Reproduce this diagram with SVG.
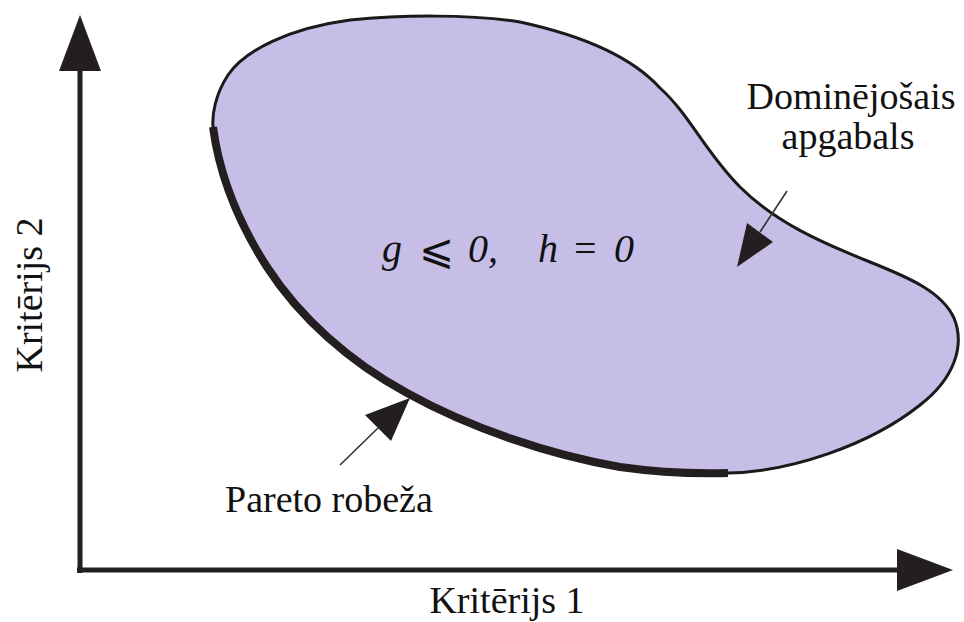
<svg xmlns="http://www.w3.org/2000/svg" width="964" height="622" viewBox="0 0 964 622">
<style>
.t{font-family:"Liberation Serif","Times New Roman",serif;font-size:38px;fill:#111}
.m{font-family:"Liberation Serif","Times New Roman",serif;font-size:40px;font-style:italic;fill:#111}
.ax{stroke:#231f20;stroke-width:5;fill:none}
.hd{fill:#231f20}
.ln{stroke:#333;stroke-width:1.6;fill:none}
</style>
<rect width="964" height="622" fill="#fff"/>
<g id="region">
<path d="M213,127 C220,180 240,225 267,267 C300,318 350,362 407,393 C470,428 550,455 620,467 C655,472 690,474 728,473 C790,472 870,445 920,405 C955,378 965,345 954,318 C942,292 910,278 870,262 C820,242 775,222 740,187 C705,152 690,115 660,88 C630,55 580,35 520,22 C470,14 400,15 350,20 C290,28 245,50 228,75 C215,95 212,115 213,127 Z" fill="#c6bee6" stroke="#1a1a1a" stroke-width="3"/>
<path id="pareto" d="M213,127 C220,180 240,225 267,267 C300,318 350,362 407,393 C470,428 550,455 620,467 C655,472 690,474 728,473" fill="none" stroke="#231f20" stroke-width="8"/>
<text class="m" x="382" y="262">g</text>
<text x="419" y="264" style="font-family:'DejaVu Serif','Liberation Serif',serif;font-size:42px;fill:#111">⩽</text>
<text class="m" x="468" y="262">0,</text>
<text class="m" x="538" y="262">h</text>
<text class="t" x="574" y="262" style="font-size:40px">=</text>
<text class="m" x="614" y="262">0</text>
</g>
<g id="axes">
<line class="ax" x1="80" y1="573" x2="80" y2="68"/>
<polygon class="hd" points="80,15 59,71 101,71"/>
<line class="ax" x1="77" y1="570" x2="900" y2="570"/>
<polygon class="hd" points="953,570 897,549 897,591"/>
</g>
<g id="connectors">
<line class="ln" x1="787" y1="191" x2="760" y2="232"/>
<polygon class="hd" points="737,267 747,223 773,242"/>
<line class="ln" x1="340" y1="465" x2="378" y2="428"/>
<polygon class="hd" points="410,398 365,415 391,441"/>
</g>
<g id="label-dominejosais">
<text class="t" x="851" y="109" text-anchor="middle">Dominējošais</text>
<text class="t" x="848" y="149" text-anchor="middle">apgabals</text>
</g>
<g id="label-pareto">
<text class="t" x="225" y="512">Pareto robeža</text>
</g>
<g id="label-x">
<text class="t" x="507" y="613" text-anchor="middle">Kritērijs 1</text>
</g>
<g id="label-y">
<text class="t" transform="translate(42,295) rotate(-90)" text-anchor="middle">Kritērijs 2</text>
</g>
</svg>
